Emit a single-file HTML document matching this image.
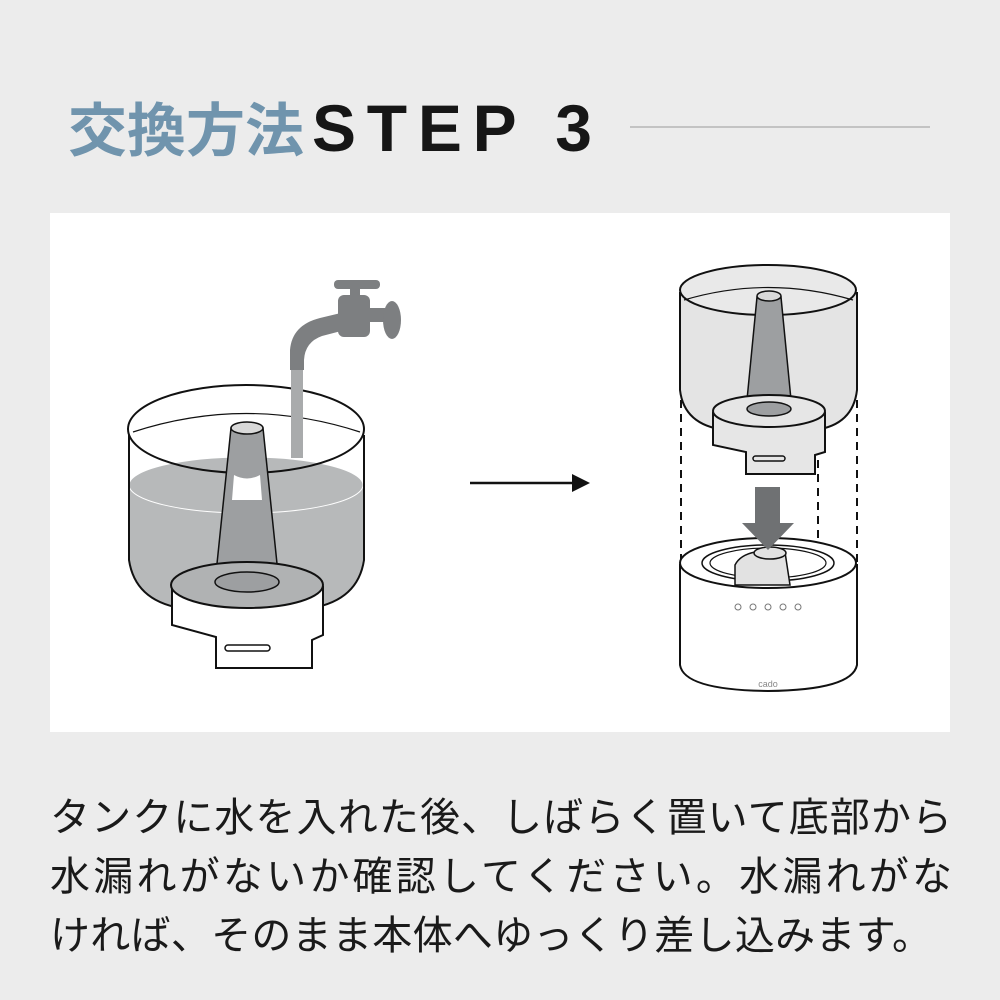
<!DOCTYPE html>
<html><head><meta charset="utf-8"><style>
html,body{margin:0;padding:0;background:#ececec;}
svg{display:block}
</style></head><body>
<svg width="1000" height="1000" viewBox="0 0 1000 1000" xmlns="http://www.w3.org/2000/svg">
<rect width="1000" height="1000" fill="#ececec"/>
<text x="68" y="151" font-family="Liberation Sans, Noto Sans CJK JP, sans-serif" font-weight="bold" font-size="58" fill="#7094ad" textLength="236" lengthAdjust="spacingAndGlyphs">交換方法</text>
<text x="312" y="151" font-family="Liberation Sans, sans-serif" font-weight="bold" font-size="66" fill="#161616" textLength="280" lengthAdjust="spacing">STEP 3</text>
<line x1="630" y1="127" x2="930" y2="127" stroke="#9a9a9a" stroke-width="1"/>
<rect x="50" y="213" width="900" height="519" fill="#fff"/>

<!-- left tank -->
<g stroke="#111" stroke-width="2" fill="none">
  <path d="M129,485 L129,560 Q135,600 180,607 L312,607 Q358,600 363,560 L363,485 Z" fill="#b7b9ba" stroke="none"/>
  <ellipse cx="246" cy="485" rx="117" ry="28" fill="#b7b9ba" stroke="#fff" stroke-width="1"/>
  <path d="M129,435 L129,560 Q135,600 180,608 L312,608 Q358,600 364,560 L364,435"/>
  <ellipse cx="246" cy="429" rx="118" ry="44" fill="none"/>
  <path d="M133,432 Q246,395 360,432" stroke-width="1.2"/>
  <rect x="291" y="368" width="12" height="90" fill="#a9abac" stroke="none"/>
  <path d="M231,428 L215,583 L279,583 L263,428 Z" fill="#9d9fa1" stroke="#111" stroke-width="1.5"/>
  <path d="M234,475 Q247,482 260,475 L262,500 L232,500 Z" fill="#fff" stroke="none"/>
  <ellipse cx="247" cy="428" rx="16" ry="6" fill="#d9d9d9" stroke="#111" stroke-width="1.5"/>
  <path d="M172,586 L172,625 L216,637 L216,668 L312,668 L312,640 L323,635 L323,586" fill="#fff"/>
  <ellipse cx="247" cy="585" rx="76" ry="23" fill="#b0b2b3"/>
  <ellipse cx="247" cy="582" rx="32" ry="10" fill="#9d9fa1" stroke-width="1.5"/>
  <rect x="225" y="645" width="45" height="6" rx="3" stroke-width="1.5"/>
</g>
<g fill="#7d7f81">
  <path d="M290,370 L290,350 Q292,325 320,318 L345,312 L345,330 L322,336 Q305,342 304,360 L304,370 Z"/>
  <rect x="338" y="295" width="32" height="42" rx="6"/>
  <rect x="350" y="284" width="10" height="14"/>
  <rect x="334" y="280" width="46" height="9" rx="4"/>
  <rect x="368" y="308" width="18" height="14"/>
  <ellipse cx="392" cy="320" rx="9" ry="19"/>
</g>

<line x1="470" y1="483" x2="575" y2="483" stroke="#111" stroke-width="2.5"/>
<polygon points="572,474 590,483 572,492" fill="#111"/>

<g stroke="#111" stroke-width="2" fill="none">
  <path d="M680,292 L680,390 Q684,425 725,430 L815,430 Q853,425 857,390 L857,292" fill="#e4e4e4"/>
  <ellipse cx="768" cy="290" rx="88" ry="25" fill="#e9e9e9"/>
  <path d="M684,300 Q768,275 853,300" stroke-width="1.2"/>
  <path d="M757,297 L746,410 L792,410 L781,297 Z" fill="#9d9fa1" stroke-width="1.5"/>
  <ellipse cx="769" cy="296" rx="12" ry="5" fill="#d9d9d9" stroke-width="1.5"/>
  <path d="M713,412 L713,445 L746,452 L746,474 L815,474 L815,455 L825,452 L825,412" fill="#e6e6e6"/>
  <ellipse cx="769" cy="411" rx="56" ry="16" fill="#e6e6e6"/>
  <ellipse cx="769" cy="409" rx="22" ry="7" fill="#9d9fa1" stroke-width="1.5"/>
  <rect x="753" y="456" width="32" height="5" rx="2.5" stroke-width="1.5"/>
</g>
<g stroke="#111" stroke-width="2" stroke-dasharray="8,6">
  <line x1="681" y1="400" x2="681" y2="562"/>
  <line x1="857" y1="400" x2="857" y2="562"/>
  <line x1="818" y1="460" x2="818" y2="545"/>
</g>
<g stroke="#111" stroke-width="2" fill="#fff">
  <path d="M680,565 L680,665 Q684,690 768,691 Q852,690 857,665 L857,565 Z"/>
  <ellipse cx="768" cy="563" rx="88" ry="25"/>
  <ellipse cx="768" cy="563" rx="66" ry="18" fill="none" stroke-width="1.5"/>
  <ellipse cx="768" cy="563" rx="58" ry="15" fill="none" stroke-width="1.2"/>
  <path d="M735,585 L735,565 Q740,555 755,552 L785,552 L790,585 Z" fill="#e2e2e2" stroke-width="1.5"/>
  <ellipse cx="770" cy="553" rx="16" ry="6" fill="#e2e2e2" stroke-width="1.5"/>
</g>
<g fill="#6f7173">
  <rect x="755" y="487" width="25" height="37"/>
  <polygon points="742,523 794,523 768,550"/>
</g>
<g fill="none" stroke="#777" stroke-width="1">
  <circle cx="738" cy="607" r="3"/><circle cx="753" cy="607" r="3"/><circle cx="768" cy="607" r="3"/><circle cx="783" cy="607" r="3"/><circle cx="798" cy="607" r="3"/>
</g>
<text x="768" y="687" font-family="Liberation Sans, sans-serif" font-size="9" fill="#888" text-anchor="middle">cado</text>

<g font-family="Liberation Sans, Noto Sans CJK JP, sans-serif" font-size="40" fill="#1a1a1a">
<text x="50" y="831" textLength="902" lengthAdjust="spacing">タンクに水を入れた後、しばらく置いて底部から</text>
<text x="50" y="890" textLength="902" lengthAdjust="spacing">水漏れがないか確認してください。水漏れがな</text>
<text x="50" y="949" textLength="882" lengthAdjust="spacing">ければ、そのまま本体へゆっくり差し込みます。</text>
</g>
</svg>
</body></html>
